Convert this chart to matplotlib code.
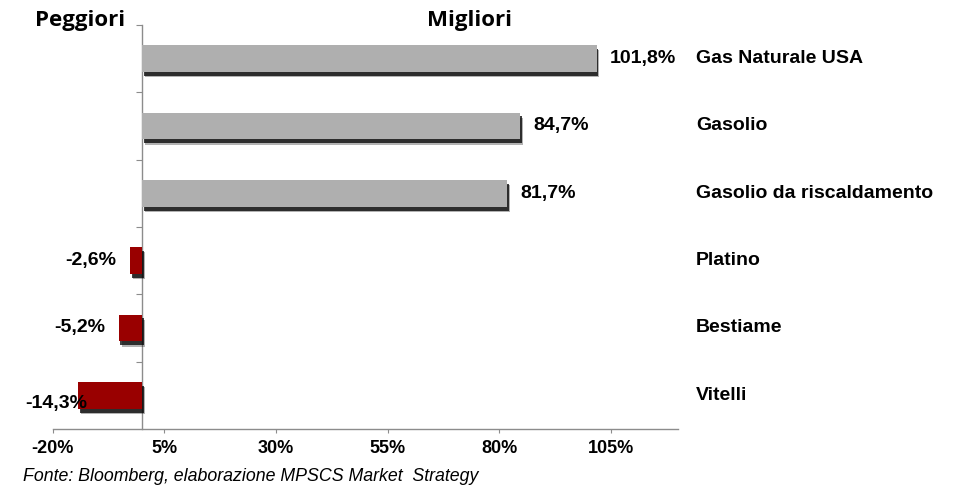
import matplotlib
matplotlib.use("Agg")
import matplotlib.pyplot as plt
import matplotlib.patheffects as pe
from matplotlib.transforms import blended_transform_factory, offset_copy

categories = ["Gas Naturale USA", "Gasolio", "Gasolio da riscaldamento",
              "Platino", "Bestiame", "Vitelli"]
values = [101.8, 84.7, 81.7, -2.6, -5.2, -14.3]
labels = ["101,8%", "84,7%", "81,7%", "-2,6%", "-5,2%", "-14,3%"]
xticks = [-20, 5, 30, 55, 80, 105]
xticklabels = ["-20%", "5%", "30%", "55%", "80%", "105%"]

POS = "#AFAFAF"
NEG = "#990000"
AX = "#8C8C8C"
FONT = ["Liberation Sans", "DejaVu Sans"]
HEAD = ["Open Sans", "DejaVu Sans"]

fig = plt.figure(figsize=(9.58, 4.87), dpi=100)
ax = fig.add_axes([0.0550, 0.1191, 0.6527, 0.8296])

ypos = list(range(len(categories)))
colors = [POS if v >= 0 else NEG for v in values]
shadow = [pe.SimplePatchShadow(offset=(2.0, -3.8), shadow_rgbFace="k", alpha=0.3),
          pe.SimplePatchShadow(offset=(1.2, -2.8), shadow_rgbFace="k", alpha=0.75),
          pe.Normal()]
bars = ax.barh(ypos, values, height=0.4, color=colors, zorder=3)
for b in bars:
    b.set_path_effects(shadow)

ax.set_xlim(-20, 120)
ax.set_ylim(len(categories) - 0.5, -0.5)

ax.spines["top"].set_visible(False)
ax.spines["right"].set_visible(False)
ax.spines["left"].set_position(("data", 0))
for s in ("left", "bottom"):
    ax.spines[s].set_color(AX)
    ax.spines[s].set_linewidth(1.0)

ax.set_xticks(xticks)
ax.set_xticklabels(xticklabels, fontfamily=FONT, fontweight="bold", fontsize=13)
ax.tick_params(axis="x", direction="out", length=3, color=AX, pad=5)
bounds = [i - 0.5 for i in range(len(categories))]
ax.set_yticks(bounds)
ax.set_yticklabels([])
ax.tick_params(axis="y", direction="out", length=4.5, color=AX)

ax.set_facecolor("none")

xmin = ax.get_xlim()[0]
for y, v, lab in zip(ypos, values, labels):
    if v >= 0:
        tr = offset_copy(ax.transData, fig=fig, x=9.5, y=0, units="points")
        ax.text(v, y, lab, transform=tr, ha="left", va="center",
                fontfamily=FONT, fontweight="bold", fontsize=14)
    elif v < -10:
        # label pushed against the left edge, as in the source chart
        tr = offset_copy(ax.transData, fig=fig, x=-20, y=-6, units="points")
        ax.text(xmin, y, lab, transform=tr, ha="left", va="center",
                fontfamily=FONT, fontweight="bold", fontsize=14, zorder=4)
    else:
        tr = offset_copy(ax.transData, fig=fig, x=-10, y=0, units="points")
        ax.text(v, y, lab, transform=tr, ha="right", va="center",
                fontfamily=FONT, fontweight="bold", fontsize=14)

tb = blended_transform_factory(ax.transAxes, ax.transData)
for y, c in zip(ypos, categories):
    ax.text(1.029, y, c, transform=tb, ha="left", va="center",
            fontfamily=FONT, fontweight="bold", fontsize=14)

fig.text(0.0365, 0.958, "Peggiori", ha="left", va="center",
         fontfamily=HEAD, fontweight="bold", fontsize=16)
fig.text(0.4905, 0.958, "Migliori", ha="center", va="center",
         fontfamily=HEAD, fontweight="bold", fontsize=16)
fig.text(0.024, 0.022, "Fonte: Bloomberg, elaborazione MPSCS Market  Strategy",
         ha="left", va="center", fontfamily=FONT, fontstyle="italic", fontsize=12.8)

fig.savefig("out.png", dpi=100)
